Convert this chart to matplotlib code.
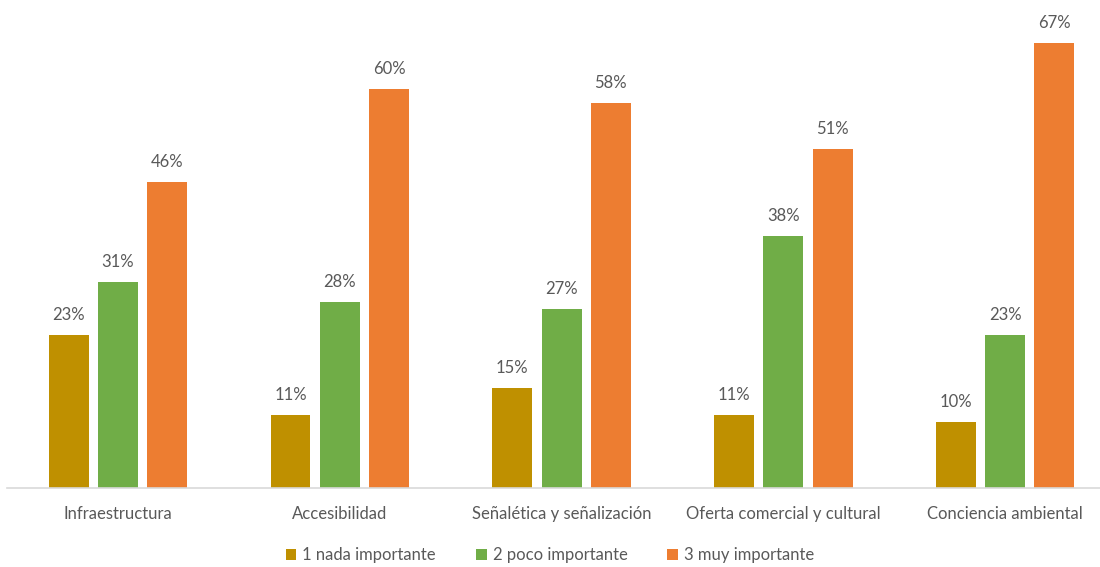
import numpy as np
import matplotlib.pyplot as plt

categories = ['Infraestructura', 'Accesibilidad', 'Señalética y señalización',
              'Oferta comercial y cultural', 'Conciencia ambiental']
series_names = ['1 nada importante', '2 poco importante', '3 muy importante']
nada = [0.23, 0.11, 0.15, 0.11, 0.10]
poco = [0.31, 0.28, 0.27, 0.38, 0.23]
muy = [0.46, 0.60, 0.58, 0.51, 0.67]
colors = ['#BF9000', '#70AD47', '#ED7D31']

plt.rcParams['font.family'] = ['Lato', 'DejaVu Sans']
text_color = '#595959'

fig = plt.figure(figsize=(11, 5.67), dpi=100)
ax = fig.add_axes([0.0064, 0.139, 1.0082, 0.829])

x = np.arange(len(categories))
width = 0.18
step = 0.222
for i, (vals, name, c) in enumerate(zip([nada, poco, muy], series_names, colors)):
    bars = ax.bar(x + (i - 1) * step, vals, width, color=c, label=name)
    for b, v in zip(bars, vals):
        ax.text(b.get_x() + b.get_width() / 2, v + 0.018, f'{v:.0%}',
                ha='center', va='bottom', fontsize=12, color=text_color)

ax.set_xlim(-0.5, 4.5)
ax.set_ylim(0, 0.707)
ax.set_yticks([])
ax.set_xticks(x)
ax.set_xticklabels(categories, fontsize=12, color=text_color)
ax.tick_params(axis='x', length=0, pad=13)
for s in ['top', 'right', 'left']:
    ax.spines[s].set_visible(False)
ax.spines['bottom'].set_color('#D9D9D9')
ax.spines['bottom'].set_linewidth(1.2)

fig.legend(loc='lower center', bbox_to_anchor=(0.5, -0.02), ncol=3, frameon=False,
           fontsize=12, labelcolor=text_color, handlelength=0.65, handleheight=0.65,
           handletextpad=0.35, columnspacing=2.4)

fig.savefig('out.png', dpi=100)
